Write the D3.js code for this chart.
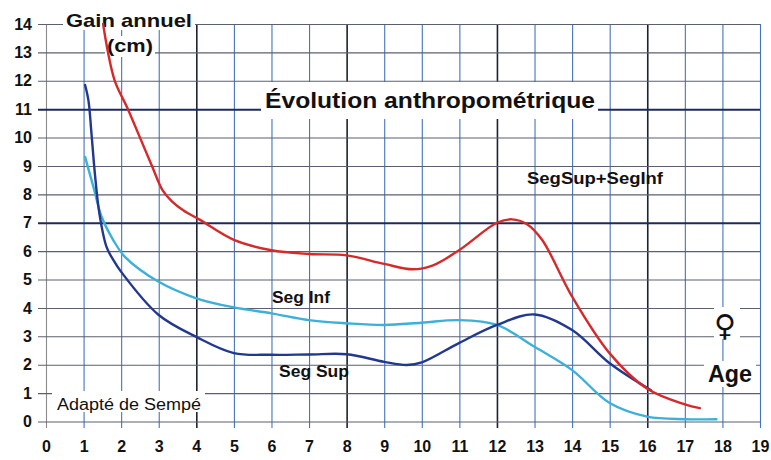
<!DOCTYPE html>
<html>
<head>
<meta charset="utf-8">
<script src="https://cdn.jsdelivr.net/npm/d3@7"></script>
<style>
  body { margin: 0; background: #fff; }
  text { font-family: "Liberation Sans", Arial, sans-serif; }
</style>
</head>
<body>
<svg id="chart" width="771" height="460"></svg>
<script>
// ticks
var xTicks = d3.range(0, 20);
var yTicks = d3.range(0, 15);
var darkX = [4, 8, 12, 16];
var darkY = [7, 11];

// Seg Sup + Seg Inf (red)
var sumAges = [1.52, 1.65, 1.83, 2.18, 2.5, 2.82, 3.1, 3.35, 3.65, 4.1, 5, 6, 7, 8, 9, 9.76, 10.3, 11, 12, 12.4, 12.8, 13.2, 14, 15, 16, 17, 17.4];
var sumVals = [14, 13, 12, 11, 10, 9, 8.15, 7.75, 7.44, 7.1, 6.4, 6.03, 5.9, 5.85, 5.55, 5.36, 5.5, 6.04, 7.0, 7.12, 6.95, 6.4, 4.4, 2.4, 1.15, 0.6, 0.47];

// Seg Sup (dark blue)
var supAges = [1.04, 1.13, 1.21, 1.3, 1.42, 1.61, 1.79, 2, 3, 4, 5, 6, 7, 8, 9, 9.6, 10, 11, 12, 13, 14, 15, 16.1];
var supVals = [11.85, 11.3, 10.15, 8.74, 7.33, 6.15, 5.69, 5.27, 3.75, 2.98, 2.41, 2.35, 2.36, 2.37, 2.1, 1.99, 2.08, 2.77, 3.4, 3.77, 3.22, 2.05, 1.1];

// Seg Inf (light blue)
var infAges = [1.04, 1.26, 1.48, 1.79, 2.1, 3, 4, 5, 6, 7, 8, 9, 10, 11, 12, 13, 14, 15, 16, 17, 17.84];
var infVals = [9.32, 8.27, 7.21, 6.39, 5.8, 4.92, 4.34, 4.02, 3.81, 3.57, 3.46, 3.40, 3.48, 3.57, 3.40, 2.63, 1.81, 0.65, 0.17, 0.08, 0.08];

var svg = d3.select('#chart');

var x = d3.scaleLinear().domain([0, 19]).range([46, 760]);
var y = d3.scaleLinear().domain([0, 14]).range([421.5, 24]);

// vertical grid + x labels
var gx = svg.append('g')
    .attr('transform', 'translate(0,428)')
    .call(d3.axisBottom(x).tickValues(xTicks).tickSizeInner(-(428 - y(14))).tickSizeOuter(0).tickPadding(13));
gx.select('.domain').remove();
gx.selectAll('.tick line')
    .attr('stroke', function(d) { return d === 0 ? '#8a8a8a' : (darkX.indexOf(d) >= 0 ? '#1c2230' : '#4474bd'); })
    .attr('stroke-width', function(d) { return darkX.indexOf(d) >= 0 ? 1.6 : 1.1; });
gx.selectAll('.tick text')
    .attr('fill', '#111')
    .style('font-size', '16px')
    .style('font-weight', 'bold');

// horizontal grid + y labels
var gy = svg.append('g')
    .attr('transform', 'translate(38,0)')
    .call(d3.axisLeft(y).tickValues(yTicks).tickSizeInner(-(x(19) - 38)).tickSizeOuter(0).tickPadding(6));
gy.select('.domain').remove();
gy.selectAll('.tick line')
    .attr('stroke', function(d) { return darkY.indexOf(d) >= 0 ? '#1e2b5a' : '#5a6070'; })
    .attr('stroke-width', function(d) { return darkY.indexOf(d) >= 0 ? 2 : 1.1; });
gy.selectAll('.tick text')
    .attr('fill', '#111')
    .style('font-size', '16px')
    .style('font-weight', 'bold');

// labels with white backing
function label(txt, px, py, size, weight, len, bg) {
    if (bg) {
        svg.append('rect')
            .attr('x', bg[0]).attr('y', bg[1]).attr('width', bg[2]).attr('height', bg[3])
            .attr('fill', '#fff');
    }
    var t = svg.append('text')
        .attr('x', px).attr('y', py)
        .attr('fill', '#111')
        .style('font-size', size + 'px')
        .style('font-weight', weight)
        .text(txt);
    if (len) t.attr('textLength', len).attr('lengthAdjust', 'spacingAndGlyphs');
    return t;
}

label('Gain annuel', 66, 27, 19, 'bold', 126, [63, 8, 132, 22]);
label('(cm)', 107, 52, 19, 'bold', 46, [105, 36, 50, 21]);
label('\u00c9volution anthropom\u00e9trique', 265, 108, 22, 'bold', 330, [261, 82, 337, 37]);
label('SegSup+SegInf', 527, 184, 16, 'bold', 136, null);
label('Seg Inf', 272, 303, 17, 'bold', 58, null);
label('Seg Sup', 279, 377, 17, 'bold', 70, null);
label('Adapt\u00e9 de Semp\u00e9', 57, 410, 16, 'normal', 144, [52, 391, 153, 21]);
label('Age', 708, 382, 23, 'bold', 44, [704, 361, 52, 26]);
label('\u2640', 714, 336, 30, 'bold', null, [714, 307, 26, 32])
    .style('font-family', '"DejaVu Sans", sans-serif');

// curves
var line = d3.line()
    .x(function(d) { return x(d[0]); })
    .y(function(d) { return y(d[1]); })
    .curve(d3.curveCatmullRom.alpha(0.5));

function series(ages, vals, color) {
    svg.append('path')
        .datum(d3.zip(ages, vals))
        .attr('fill', 'none')
        .attr('stroke', color)
        .attr('stroke-width', 2.4)
        .attr('stroke-linecap', 'round')
        .attr('d', line);
}

series(infAges, infVals, '#3cb0d8');
series(supAges, supVals, '#22388f');
series(sumAges, sumVals, '#d42a2a');
</script>
</body>
</html>
